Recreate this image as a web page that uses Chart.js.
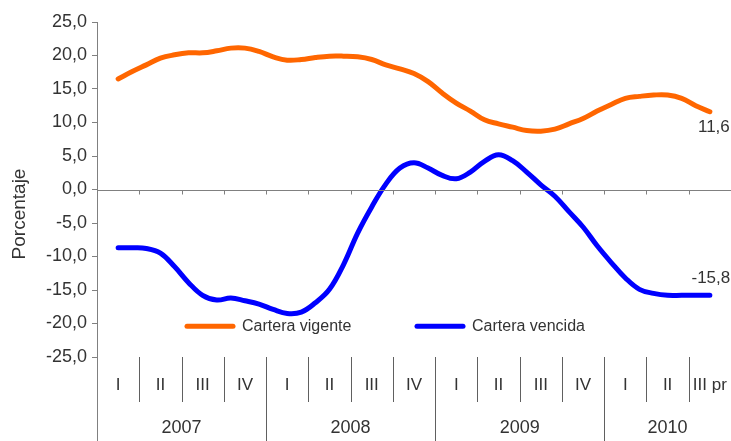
<!DOCTYPE html>
<html>
<head>
<meta charset="utf-8">
<script src="https://cdn.jsdelivr.net/npm/chart.js@4/dist/chart.umd.min.js"></script>
<style>
  html, body { margin: 0; padding: 0; background: #fff; }
  canvas { display: block; }
</style>
</head>
<body>
<canvas id="cartera" width="731" height="441"></canvas>
<script>
// one category per month, Jan 2007 - Sep 2010
const years = ["2007", "2008", "2009", "2010"];
const quarterLabels = ["I", "II", "III", "IV", "I", "II", "III", "IV", "I", "II", "III", "IV", "I", "II", "III pr"];
const months = [];
years.forEach((yr) => {
  for (let m = 1; m <= 12; m++) {
    if (yr === "2010" && m > 9) break;
    months.push(yr + "-" + String(m).padStart(2, "0"));
  }
});

// annual growth, %
const vigente = [null,
  16.5, 17.6, 18.6, 19.6, 20.1, 20.4, 20.4, 20.7, 21.1, 21.1, 20.6,
  19.8, 19.3, 19.4, 19.7, 19.9, 19.9, 19.8, 19.4, 18.6, 18.0, 17.3, 16.1,
  14.4, 12.9, 11.7, 10.4, 9.8, 9.3, 8.8, 8.7, 9.0, 9.8, 10.6, 11.7,
  12.7, 13.6, 13.9, 14.1, 14.1, 13.6, 12.5, 11.6,
  null];
const vencida = [null,
  -8.7, -8.7, -8.8, -9.5, -11.5, -13.9, -15.8, -16.5, -16.2, -16.6, -17.1,
  -17.9, -18.5, -18.3, -16.9, -14.9, -11.2, -6.5, -2.6, 0.8, 3.2, 4.0, 3.2,
  2.1, 1.6, 2.6, 4.2, 5.2, 4.3, 2.6, 0.7, -1.0, -3.3, -5.6, -8.4,
  -10.9, -13.2, -14.9, -15.5, -15.8, -15.8, -15.8, -15.8,
  null];

const fmt = (v) => v.toFixed(1).replace(".", ",");
const FONT = "'Liberation Sans', Arial, sans-serif";
const axisGrey = "#808080";
const textGrey = "#333333";

// bottom axis (quarters / years), legend, end labels, y title
const extras = {
  id: "extras",
  afterDraw(chart) {
    const ctx = chart.ctx;
    const x = chart.scales.x;
    const y = chart.scales.y;
    const a = chart.chartArea;
    const H = chart.height;
    const y0 = Math.round(y.getPixelForValue(0)) + 0.5;

    const bounds = [];
    for (let q = 0; q <= quarterLabels.length; q++) {
      if (q === 0) bounds.push(a.left);
      else if (q === quarterLabels.length) bounds.push(a.right);
      else bounds.push((x.getPixelForValue(3 * q - 1) + x.getPixelForValue(3 * q)) / 2);
    }

    ctx.save();
    ctx.strokeStyle = axisGrey;
    ctx.lineWidth = 1;
    ctx.beginPath();
    // zero line + tick marks
    ctx.moveTo(a.left, y0);
    ctx.lineTo(a.right, y0);
    bounds.forEach((b) => {
      const bx = Math.round(b) + 0.5;
      ctx.moveTo(bx, y0);
      ctx.lineTo(bx, y0 + 4);
    });
    // left axis running down through the labels
    const lx = Math.round(a.left) + 0.5;
    ctx.moveTo(lx, a.bottom);
    ctx.lineTo(lx, H);
    ctx.stroke();

    ctx.strokeStyle = "#606060";
    ctx.beginPath();
    bounds.forEach((b, q) => {
      if (q === 0 || q === bounds.length - 1) return;
      const bx = Math.round(b) + 0.5;
      ctx.moveTo(bx, a.bottom);
      ctx.lineTo(bx, q % 4 === 0 ? H : a.bottom + 45);
    });
    ctx.stroke();

    ctx.fillStyle = textGrey;
    ctx.textAlign = "center";
    ctx.textBaseline = "middle";
    ctx.font = "17px " + FONT;
    quarterLabels.forEach((lab, q) => {
      ctx.fillText(lab, (bounds[q] + bounds[q + 1]) / 2, a.bottom + 28);
    });
    ctx.font = "18px " + FONT;
    years.forEach((yr, i) => {
      const s = bounds[i * 4];
      const e = bounds[Math.min(i * 4 + 4, bounds.length - 1)];
      ctx.fillText(yr, (s + e) / 2, H - 13);
    });

    // legend inside the plot
    const legY = y.getPixelForValue(-20.4);
    const items = [
      { ds: chart.data.datasets[0], x: 187 },
      { ds: chart.data.datasets[1], x: 417 },
    ];
    ctx.font = "16px " + FONT;
    ctx.textAlign = "left";
    items.forEach((it) => {
      ctx.strokeStyle = it.ds.borderColor;
      ctx.lineWidth = 5;
      ctx.lineCap = "round";
      ctx.beginPath();
      ctx.moveTo(it.x, legY);
      ctx.lineTo(it.x + 46, legY);
      ctx.stroke();
      ctx.fillText(it.ds.label, it.x + 55, legY);
    });

    // values at the last point
    ctx.font = "17px " + FONT;
    ctx.textAlign = "center";
    const last0 = chart.getDatasetMeta(0).data[vigente.length - 2];
    const last1 = chart.getDatasetMeta(1).data[vencida.length - 2];
    ctx.fillText(fmt(vigente[vigente.length - 2]), last0.x + 4, last0.y + 16);
    ctx.fillText(fmt(vencida[vencida.length - 2]), last1.x + 1, last1.y - 17);

    // y title
    ctx.translate(20, 214);
    ctx.rotate(-Math.PI / 2);
    ctx.font = "19px " + FONT;
    ctx.fillText("Porcentaje", 0, 0);
    ctx.restore();
  },
};

new Chart(document.getElementById("cartera"), {
  type: "line",
  data: {
    labels: months,
    datasets: [
      {
        label: "Cartera vigente",
        data: vigente,
        borderColor: "#FF6600",
        backgroundColor: "#FF6600",
      },
      {
        label: "Cartera vencida",
        data: vencida,
        borderColor: "#0000FF",
        backgroundColor: "#0000FF",
      },
    ],
  },
  options: {
    responsive: false,
    animation: false,
    layout: { padding: { top: 22, bottom: 84, left: 0, right: 0 } },
    elements: {
      point: { radius: 0 },
      line: { borderWidth: 5, tension: 0.4, borderCapStyle: "round", borderJoinStyle: "round" },
    },
    plugins: { legend: { display: false }, tooltip: { enabled: false } },
    scales: {
      x: { type: "category", display: false, offset: true },
      y: {
        min: -25,
        max: 25,
        afterFit: (s) => { s.width = 97; },
        ticks: {
          stepSize: 5,
          color: textGrey,
          padding: 5,
          font: { family: FONT, size: 18 },
          callback: (v) => fmt(v),
        },
        grid: { drawOnChartArea: false, drawTicks: true, tickLength: 5, color: axisGrey },
        border: { color: axisGrey },
      },
    },
  },
  plugins: [extras],
});
</script>
</body>
</html>
